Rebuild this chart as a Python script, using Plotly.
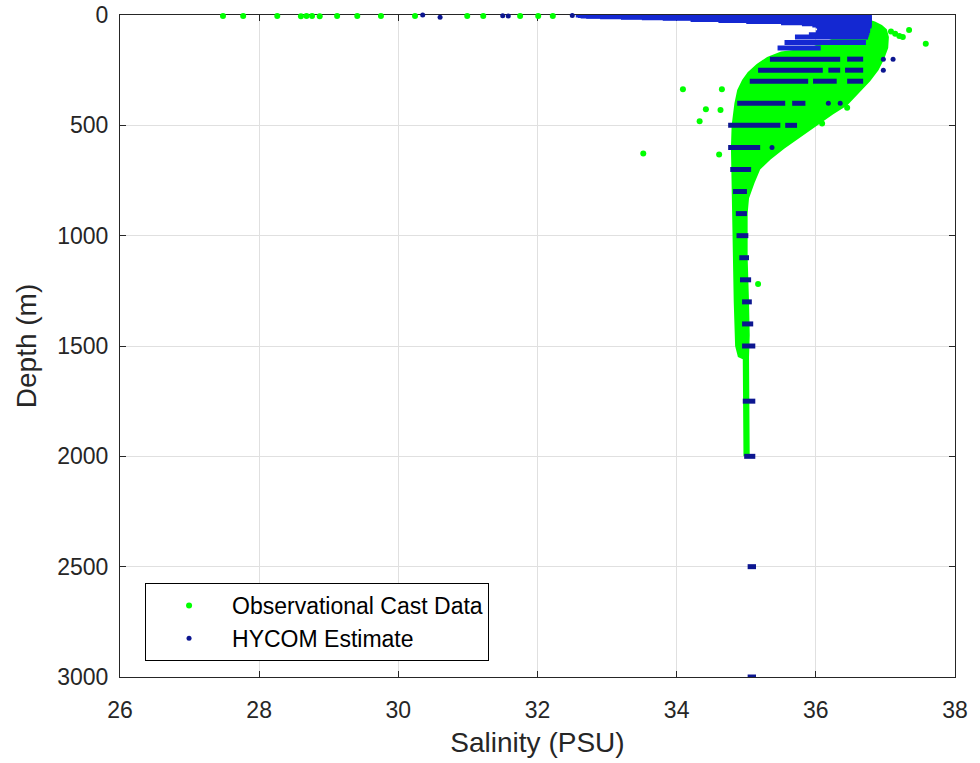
import plotly.graph_objects as go

# ---------------- data ----------------
# Observational casts: envelope of the dense cloud (salinity, depth)
obs_env_sal = [36.70, 36.85, 36.95, 37.02, 37.05, 37.04, 36.98, 36.90, 36.78, 36.60,
               36.45, 36.25, 36.05, 35.80, 35.55, 35.35, 35.20, 35.12, 35.04, 35.02,
               35.02, 35.04, 35.05, 35.04, 35.05, 34.96, 34.95, 34.88, 34.84, 34.82,
               34.80, 34.79, 34.78, 34.79, 34.83, 34.87, 34.94, 35.02, 35.15, 35.30,
               35.50, 35.90, 36.30, 36.50, 36.60]
obs_env_depth = [15, 30, 45, 65, 100, 150, 200, 250, 300, 360,
                 410, 450, 495, 550, 605, 655, 700, 760, 830, 900,
                 1100, 1300, 1450, 1550, 2000, 2000, 1560, 1550, 1500, 1300,
                 1000, 800, 600, 500, 400, 340, 295, 260, 222, 190,
                 165, 150, 100, 50, 15]

# Observational casts: isolated points
obs_sal = [27.48, 27.77, 28.26, 28.60, 28.68, 28.76, 28.87, 29.12, 29.41, 29.75,
           30.24, 30.99, 31.22, 31.75, 32.01, 32.22,
           34.09, 34.65, 34.42, 34.63, 34.33, 34.61, 33.52, 36.09, 36.45, 35.17,
           37.08, 37.14, 37.20, 37.25, 37.34, 37.58]
obs_depth = [5, 5, 5, 6, 4, 5, 6, 5, 5, 5,
             5, 5, 5, 5, 5, 5,
             336, 336, 427, 430, 481, 632, 628, 492, 420, 1219,
             75, 85, 95, 100, 68, 130]

# HYCOM estimate: runs of points along model levels (depth, first salinity, last salinity)
hycom_seg_depth = [0, 2, 4, 6, 8, 10, 12, 15, 20, 25, 30, 35, 40, 45, 50, 60, 70, 80, 90, 100, 125, 150,
                   200, 200, 250, 250, 250, 300, 300, 300, 400, 400, 500, 500, 600, 700,
                   800, 900, 1000, 1100, 1200, 1300, 1400, 1500, 1750, 2000, 2500, 3000]
hycom_seg_start = [32.55, 32.58, 32.62, 32.70, 32.90, 33.20, 33.50, 33.80, 34.20, 34.60, 35.00, 35.50,
                   35.80, 35.95, 36.00, 36.02, 36.02, 36.00, 35.90, 35.70, 35.55, 35.45,
                   35.34, 36.45, 35.17, 36.18, 36.42, 35.05, 35.96, 36.45, 34.87, 35.66,
                   34.74, 35.56, 34.74, 34.77,
                   34.81, 34.85, 34.86, 34.90, 34.91, 34.94, 34.94, 34.94, 34.95, 34.97, 35.02, 35.02]
hycom_seg_end = [36.78, 36.78, 36.78, 36.80, 36.80, 36.80, 36.80, 36.80, 36.80, 36.80, 36.80, 36.80,
                 36.80, 36.80, 36.80, 36.78, 36.78, 36.77, 36.76, 36.75, 36.72, 36.07,
                 36.35, 36.68, 36.10, 36.35, 36.68, 35.89, 36.30, 36.68, 35.56, 35.85,
                 35.49, 35.73, 35.20, 35.07,
                 35.01, 35.01, 35.03, 35.04, 35.07, 35.08, 35.10, 35.13, 35.13, 35.13, 35.14, 35.14]

# HYCOM estimate: isolated points
hycom_sal = [30.35, 30.60, 31.50, 31.58, 32.50, 36.97, 37.11, 36.97, 36.18, 36.35, 35.37]
hycom_depth = [0, 10, 3, 5, 2, 200, 200, 250, 400, 400, 600]

x_ticks = [26, 28, 30, 32, 34, 36, 38]
y_ticks = [0, 500, 1000, 1500, 2000, 2500, 3000]

# ---------------- styling ----------------
GREEN = "#00ff00"
BLUE_TOP = "#1428d2"
BLUE_DEEP = "#0c1690"
FONT = "Liberation Sans, Arial, sans-serif"
TXT = "#262626"


def seg_xy(depths, starts, ends, keep):
    xs, ys = [], []
    for d, s, e in zip(depths, starts, ends):
        if keep(d):
            xs += [s, e, None]
            ys += [d, d, None]
    return xs, ys


fig = go.Figure()

# observational cloud
fig.add_trace(go.Scatter(x=obs_env_sal, y=obs_env_depth, mode="lines", fill="toself",
                         fillcolor=GREEN, line=dict(width=0, color=GREEN),
                         showlegend=False, hoverinfo="skip", legendgroup="obs"))
fig.add_trace(go.Scatter(x=obs_sal, y=obs_depth, mode="markers",
                         marker=dict(size=6, color=GREEN),
                         name="Observational Cast Data", legendgroup="obs",
                         cliponaxis=False))

# HYCOM levels
xt, yt = seg_xy(hycom_seg_depth, hycom_seg_start, hycom_seg_end, lambda d: d <= 150)
fig.add_trace(go.Scatter(x=xt, y=yt, mode="lines", line=dict(width=5, color=BLUE_TOP),
                         showlegend=False, hoverinfo="skip", legendgroup="hycom"))
xd, yd = seg_xy(hycom_seg_depth, hycom_seg_start, hycom_seg_end, lambda d: d > 150)
fig.add_trace(go.Scatter(x=xd, y=yd, mode="lines", line=dict(width=5, color=BLUE_DEEP),
                         showlegend=False, hoverinfo="skip", legendgroup="hycom"))
fig.add_trace(go.Scatter(x=hycom_sal, y=hycom_depth, mode="markers",
                         marker=dict(size=5, color=BLUE_DEEP),
                         name="HYCOM Estimate", legendgroup="hycom",
                         cliponaxis=False))

axis_common = dict(
    showgrid=True, gridcolor="#e0e0e0", gridwidth=1,
    showline=True, linecolor="#262626", linewidth=1, mirror="ticks",
    ticks="inside", ticklen=6, tickcolor="#262626", tickwidth=1,
    zeroline=False, layer="below traces", automargin=False,
    tickfont=dict(family=FONT, size=23, color=TXT),
)

fig.update_layout(
    width=980, height=763,
    margin=dict(l=120, r=25, t=15, b=86),
    paper_bgcolor="white", plot_bgcolor="white",
    font=dict(family=FONT, color=TXT),
    xaxis=dict(range=[26, 38], tickvals=x_ticks, ticktext=[str(v) for v in x_ticks],
               ticklabelstandoff=12,
               title=dict(text="Salinity (PSU)", font=dict(family=FONT, size=28, color=TXT), standoff=10),
               **axis_common),
    yaxis=dict(range=[3000, 0], tickvals=y_ticks, ticktext=[str(v) for v in y_ticks],
               ticklabelstandoff=6,
               title=dict(text="Depth (m)", font=dict(family=FONT, size=28, color=TXT), standoff=12),
               **axis_common),
    legend=dict(x=0.03, y=0.142, xanchor="left", yanchor="top",
                bgcolor="white", bordercolor="#000000", borderwidth=1,
                font=dict(family=FONT, size=23, color="#000000"),
                itemwidth=76, traceorder="grouped", tracegroupgap=0),
)

fig.write_html("out.html")
